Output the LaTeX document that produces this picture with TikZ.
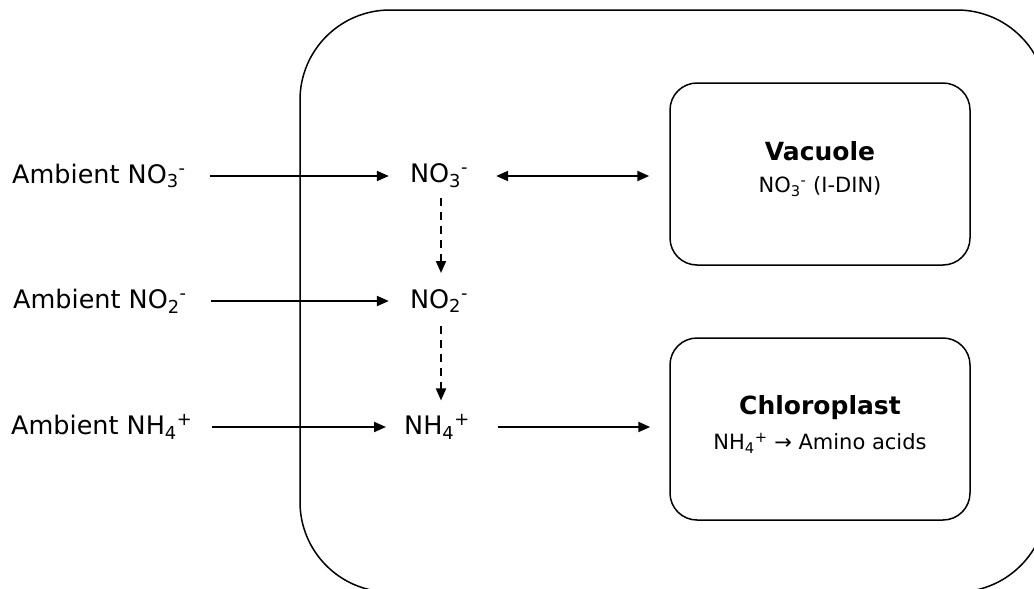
\documentclass[tikz,border=0pt]{standalone}
\usepackage{fontspec}
\setmainfont{DejaVu Sans}
\usetikzlibrary{arrows.meta}
\tikzset{
  lbl/.style={inner sep=0pt, font=\fontsize{25.5}{30}\selectfont},
  ttl/.style={inner sep=0pt, font=\fontsize{25}{30}\selectfont\bfseries},
  sub/.style={inner sep=0pt, font=\fontsize{21}{25}\selectfont},
  organelle/.style={draw, line width=1.5pt, rounded corners=27pt, minimum width=300pt, minimum height=182pt},
  arr/.style={line width=2pt, -{Triangle[length=12pt,width=10pt]}},
  darr/.style={line width=2pt, {Triangle[length=12pt,width=10pt]}-{Triangle[length=12pt,width=10pt]}},
  dasharr/.style={line width=2pt, dash pattern=on 8pt off 6pt, -{Triangle[length=12pt,width=10pt]}}
}
\begin{document}
\begin{tikzpicture}[x=1pt,y=-1pt]
\useasboundingbox (0,0) rectangle (1034,589);
\begin{scope}
\clip (0,0) rectangle (1034,589);
\draw[line width=1.5pt, rounded corners=90pt] (300,10) rectangle (1047,592);
\end{scope}
\node[lbl, anchor=west] (a1) at (12,176) {Ambient NO\textsubscript{3}\textsuperscript{-}};
\node[lbl, anchor=west] (a2) at (13,301) {Ambient NO\textsubscript{2}\textsuperscript{-}};
\node[lbl, anchor=west] (a3) at (11,427) {Ambient NH\textsubscript{4}\textsuperscript{+}};
\node[lbl] (n1) at (439,176) {NO\textsubscript{3}\textsuperscript{-}};
\node[lbl] (n2) at (439,301) {NO\textsubscript{2}\textsuperscript{-}};
\node[lbl] (n3) at (437,427) {NH\textsubscript{4}\textsuperscript{+}};
\node[organelle] (vac) at (820,174) {};
\node[organelle] (chl) at (820,429) {};
\node[ttl] (vt) at (820,151) {Vacuole};
\node[sub] (vs) at (820,187) {NO\textsubscript{3}\textsuperscript{-} (I-DIN)};
\node[ttl] (ct) at (820,408) {Chloroplast};
\node[sub] (cs) at (820,443) {NH\textsubscript{4}\textsuperscript{+} → Amino acids};
\draw[arr] ([xshift=24pt]a1.east) -- ([xshift=-21pt]n1.west);
\draw[arr] ([xshift=24pt]a2.east) -- ([xshift=-21pt]n2.west);
\draw[arr] ([xshift=20pt]a3.east) -- ([xshift=-18pt]n3.west);
\draw[darr] ([xshift=28pt]n1.east) -- ([xshift=-20pt]vac.west |- n1.east);
\draw[arr] ([xshift=28pt]n3.east) -- ([xshift=-19pt]chl.west |- n3.east);
\draw[dasharr] ([xshift=2pt,yshift=-10pt]n1.south) -- ([xshift=2pt,yshift=16pt]n2.north);
\draw[dasharr] ([xshift=2pt,yshift=-13pt]n2.south) -- ([xshift=4pt,yshift=14pt]n3.north);
\end{tikzpicture}
\end{document}
